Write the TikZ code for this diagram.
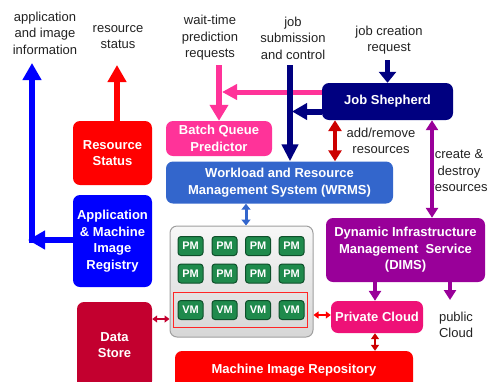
\documentclass[tikz,border=0pt]{standalone}
\usepackage{fontspec}
\setmainfont{Liberation Sans}
\usetikzlibrary{arrows.meta}
\definecolor{cred}{HTML}{FF0000}
\definecolor{cblue}{HTML}{0000FF}
\definecolor{cdata}{HTML}{C3002F}
\definecolor{cpink}{HTML}{FF3399}
\definecolor{cwrms}{HTML}{3366CC}
\definecolor{cnavy}{HTML}{000080}
\definecolor{cpurple}{HTML}{990099}
\definecolor{cpc}{HTML}{EE1177}
\definecolor{cdred}{HTML}{CC0000}
\definecolor{cgreen}{HTML}{1F8A4C}
\definecolor{cgreend}{HTML}{0E4F2A}
\definecolor{ctext}{HTML}{222222}
\begin{document}
\begin{tikzpicture}[x=1pt,y=-1pt,
  box/.style={rounded corners=7pt, text=white, inner sep=0pt, align=center,
    font=\bfseries\fontsize{13}{16.5}\selectfont},
  lbl/.style={text=ctext, align=center, inner sep=0pt,
    font=\fontsize{13}{16.5}\selectfont},
  pmbox/.style={rounded corners=3pt, fill=cgreen, draw=cgreend, line width=1pt,
    minimum width=25pt, minimum height=19pt, inner sep=0pt, text=white,
    font=\bfseries\fontsize{11}{12}\selectfont},
  bigarrow/.style={line width=6pt, -{Triangle[width=18pt,length=17pt]}},
  dblarrow/.style={line width=4.5pt, {Triangle[width=13pt,length=11pt]}-{Triangle[width=13pt,length=11pt]}},
  purparrow/.style={line width=3.5pt, color=cpurple, -{Triangle[width=12pt,length=10pt]}},
  smalldbl/.style={line width=1.6pt, {Triangle[width=7pt,length=5pt]}-{Triangle[width=7pt,length=5pt]}}
]
\useasboundingbox (0,0) rectangle (489,381);
\clip (0,0) rectangle (489,381);

% boxes
\node[box, fill=cred, minimum width=79pt, minimum height=64pt] (rs) at (112.5,153) {Resource\\Status};
\node[box, fill=cblue, minimum width=79pt, minimum height=92pt] (amir) at (112.5,241) {Application\\\& Machine\\Image\\Registry};
\node[box, fill=cdata, minimum width=75pt, minimum height=86pt] (ds) at (114.5,345) {Data\\Store};
\node[box, fill=cpink, minimum width=106pt, minimum height=35pt] (bqp) at (219,138.5) {Batch Queue\\Predictor};
\node[box, fill=cwrms, minimum width=227pt, minimum height=42pt] (wrms) at (279.5,182.5) {Workload and Resource\\Management System (WRMS)};
\node[box, fill=cnavy, minimum width=131pt, minimum height=37pt] (js) at (387.5,101.5) {Job Shepherd};
\node[box, fill=cpurple, minimum width=159pt, minimum height=64pt] (dims) at (405.5,250) {Dynamic Infrastructure\\Management\ \ Service\\(DIMS)};
\node[box, fill=cpc, minimum width=92pt, minimum height=32pt] (pc) at (377,317) {Private Cloud};
\node[box, fill=cred, minimum width=238pt, minimum height=38pt] (mir) at (294,370) {\raisebox{2pt}{Machine Image Repository}};

% cluster
\node[rounded corners=7pt, top color=gray!6, bottom color=gray!32, draw=gray!75, line width=1pt,
  minimum width=143pt, minimum height=111pt, inner sep=0pt] (cluster) at (241.5,281.5) {};
\node[draw=red!85, line width=0.8pt, minimum width=134pt, minimum height=35pt, inner sep=0pt] (vmf) at (240,309.5) {};
\foreach \c/\x in {1/190.5,2/224.5,3/258,4/291.5}{
  \node[pmbox] (pma\c) at (\x,246) {PM};
  \node[pmbox] (pmb\c) at (\x,273.5) {PM};
  \node[pmbox] (vm\c) at (\x,310) {VM};
}

% labels
\node[lbl] (labapp) at (45,33) {application\\and image\\information};
\node[lbl] (labrs) at (118,37) {resource\\status};
\node[lbl] (labwait) at (210,38) {wait-time\\prediction\\requests};
\node[lbl] (labjob) at (293,38) {job\\submission\\and control};
\node[lbl] (labcreate) at (389,40) {job creation\\request};
\node[lbl] (labadd) at (381,141) {add/remove\\resources};
\node[lbl] (labcd) at (459,171) {create \&\\destroy\\resources};
\node[lbl] (labpub) at (456,325) {public\\Cloud};

% free-end coordinates
\coordinate (rt) at (117,65);
\coordinate (bh) at (28,240);
\coordinate (bv) at (32,243);
\coordinate (bt) at (32,63);
\coordinate (wt) at (219,65);
\coordinate (ph) at (222,92);
\coordinate (jt) at (290,65);
\coordinate (nh) at (292,111.5);
\coordinate (jc) at (387.5,60);
\coordinate (rd) at (335,0);
\coordinate (pd) at (432,0);
\coordinate (dl) at (375,0);
\coordinate (pub) at (450,300);
\coordinate (bd) at (246,0);
\coordinate (dc) at (0,319);
\coordinate (cp) at (0,315);
\coordinate (md) at (375,0);

% connectors
\draw[bigarrow, cred] (rs.north -| rt) -- (rt);
\draw[bigarrow, cblue] (amir.west |- bh) -- (bh);
\draw[bigarrow, cblue] (bv) -- (bt);
\draw[line width=5pt, cpink, -{Triangle[width=15pt,length=15pt]}] (js.west |- ph) -- (ph);
\draw[line width=6pt, cpink, -{Triangle[width=18pt,length=16pt]}] (wt) -- (bqp.north -| wt);
\draw[line width=5.5pt, cnavy, -{Triangle[width=16pt,length=17pt]}] (jt) -- (wrms.north -| jt);
\draw[line width=6pt, cnavy, -{Triangle[width=16pt,length=15pt]}] (js.west |- nh) -- (nh);
\draw[line width=5pt, cnavy, -{Triangle[width=17pt,length=11pt]}] (jc) -- (js.north -| jc);
\draw[dblarrow, cdred] (js.south -| rd) -- (wrms.north -| rd);
\draw[line width=3.5pt, cpurple, {Triangle[width=12pt,length=10pt]}-{Triangle[width=12pt,length=10pt]}] (js.south -| pd) -- (dims.north -| pd);
\draw[purparrow] (dims.south -| dl) -- (pc.north -| dl);
\draw[purparrow] (dims.south -| pub) -- (pub);
\draw[line width=3pt, cwrms, {Triangle[width=9pt,length=6pt]}-{Triangle[width=9pt,length=6pt]}] (wrms.south -| bd) -- (cluster.north -| bd);
\draw[smalldbl, cdata] (ds.east |- dc) -- (cluster.west |- dc);
\draw[smalldbl, cred] (cluster.east |- cp) -- (pc.west |- cp);
\draw[line width=2pt, cdred, {Triangle[width=8pt,length=6pt]}-{Triangle[width=8pt,length=6pt]}] (pc.south -| md) -- (mir.north -| md);
\end{tikzpicture}
\end{document}
